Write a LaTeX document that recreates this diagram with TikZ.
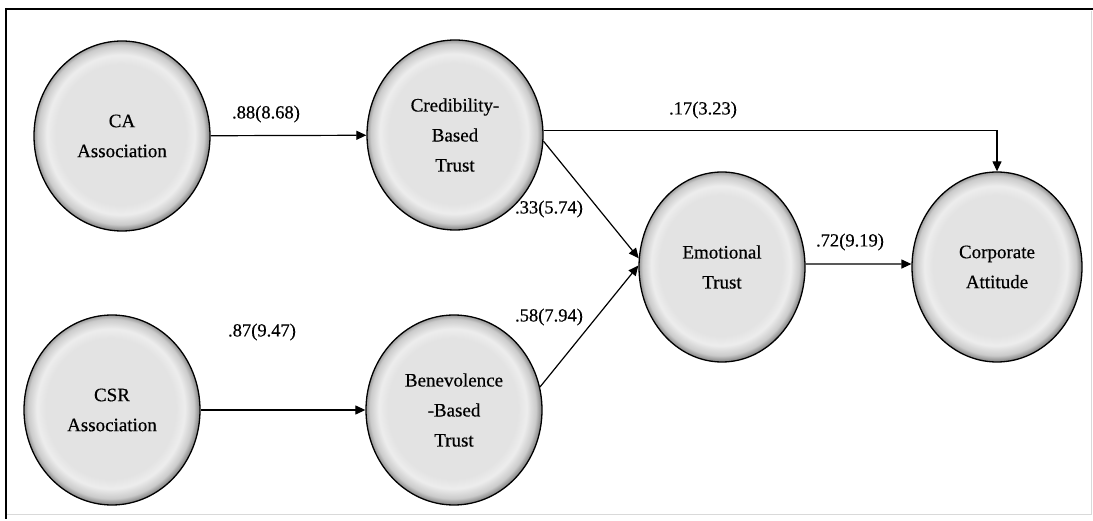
\documentclass[tikz,border=0pt]{standalone}
\usepackage{fontspec}
\setmainfont{Liberation Serif}
\newfontfamily\diafont{Liberation Serif}[FakeBold=0.5]
\usetikzlibrary{shapes.geometric,arrows.meta}
\definecolor{rimA}{HTML}{E3E3E3}
\definecolor{rimB}{HTML}{EDEDED}
\definecolor{rimC}{HTML}{CBCBCB}
\definecolor{rimD}{HTML}{7E7E7E}
\pgfdeclareradialshading{rim}{\pgfpoint{-0.6bp}{0.6bp}}{color(0bp)=(rimA); color(18.5bp)=(rimA); color(21bp)=(rimB); color(23.6bp)=(rimC); color(25.3bp)=(rimD); color(50bp)=(rimD)}
\tikzset{
  latent/.style={ellipse, draw=black, line width=1.3pt, shade, shading=rim,
    minimum width=176pt, minimum height=190pt, inner sep=0pt, align=center,
    font=\diafont\fontsize{19}{30}\selectfont},
  path/.style={draw=black, line width=1.2pt, -{Triangle[length=10pt,width=9pt]}},
  coef/.style={font=\diafont\fontsize{18.5}{20}\selectfont, inner sep=0pt}
}
\begin{document}
\begin{tikzpicture}[x=1pt,y=-1pt]
\useasboundingbox (0,0) rectangle (1093,521);
\fill[white] (0,0) rectangle (1093,521);
% frame
\draw[line width=2.2pt] (5,9) -- (1093,9);
\draw[line width=2.2pt] (6,8) -- (6,519);
\draw[black!15, line width=1pt] (1091,11) -- (1091,514) -- (7,514);
% nodes
\node[latent] (ca)  at (122,136) {CA\\Association};
\node[latent] (cbt) at (455,135) {Credibility-\\Based\\Trust};
\node[latent] (csr) at (112,410) {CSR\\Association};
\node[latent] (bbt) at (454,410) {Benevolence\\-Based\\Trust};
\node[latent, minimum width=166pt] (et) at (722,267) {Emotional\\Trust};
\node[latent, minimum width=170pt] (att) at (997,267) {Corporate\\Attitude};
% paths
\draw[path] (ca) -- (cbt);
\draw[path] (csr) -- (bbt);
\draw[path] (cbt.3) -| (att.north);
\draw[path] (cbt.-4) -- (et.174);
\draw[path] (bbt.15) -- (et.179);
\draw[path] (et.2) -- (att.178);
% coefficients
\node[coef] (l1) at (266,114) {.88(8.68)};
\node[coef] (l2) at (262,332) {.87(9.47)};
\node[coef] (l3) at (703,110) {.17(3.23)};
\node[coef] (l4) at (549,209) {.33(5.74)};
\node[coef] (l5) at (549,317) {.58(7.94)};
\node[coef] (l6) at (850,242) {.72(9.19)};
\end{tikzpicture}
\end{document}
